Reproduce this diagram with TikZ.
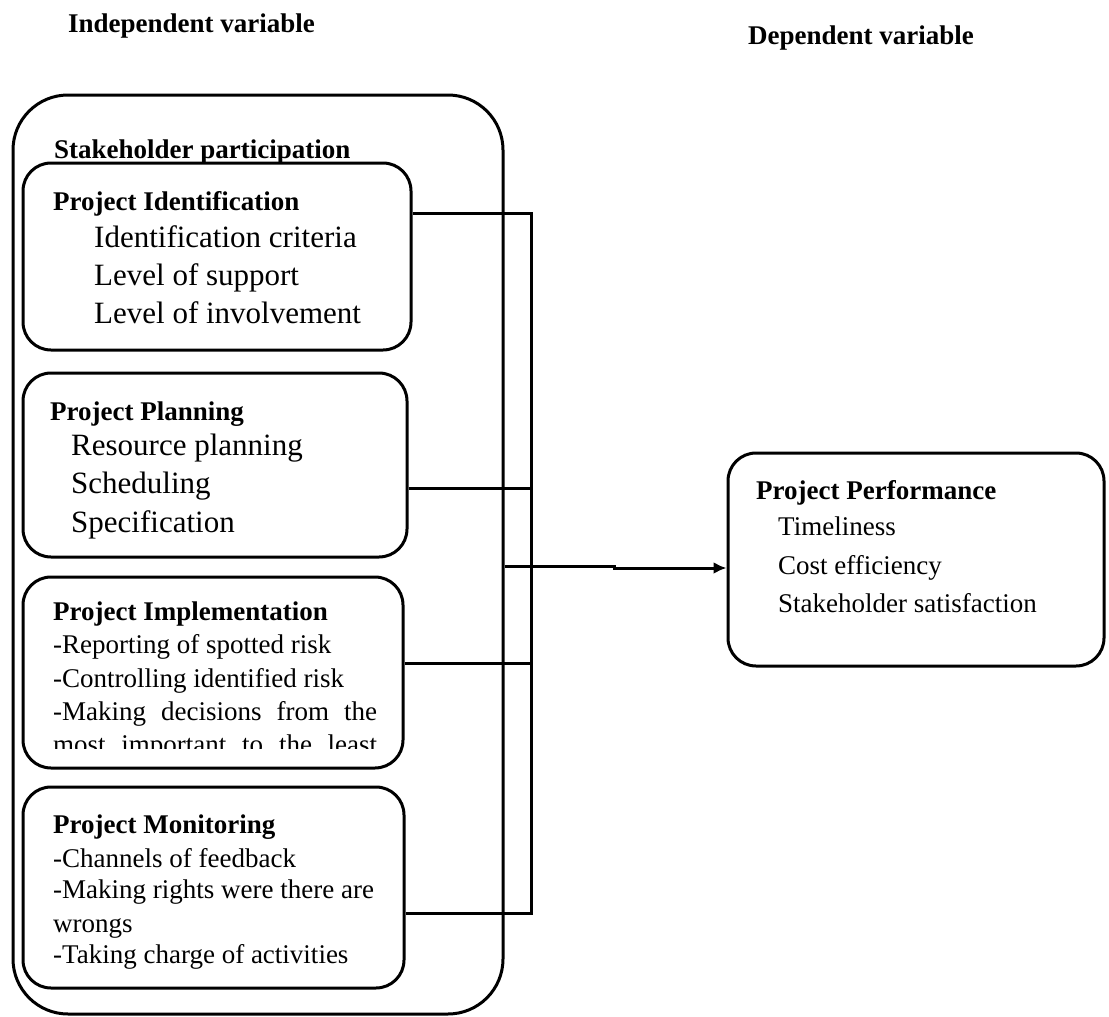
\documentclass[tikz,border=0pt]{standalone}
\usepackage{fontspec}
\setmainfont{Liberation Serif}
\usetikzlibrary{arrows.meta}

\tikzset{
	panel/.style = {draw, line width = 3pt, rounded corners = 28pt, inner sep = 0pt},
	head/.style = {font = \bfseries\fontsize{27}{30}\selectfont, anchor = base west, inner sep = 0pt},
	big/.style = {font = \fontsize{31}{34}\selectfont, anchor = base west, inner sep = 0pt},
	item/.style = {font = \fontsize{27}{30}\selectfont, anchor = base west, inner sep = 0pt},
	link/.style = {line width = 3pt}
}

\begin{document}
\begin{tikzpicture}[x = 1pt, y = -1pt]
	\useasboundingbox (0,0) rectangle (1109,1017);
	% headings
	\node[head] (indep) at (68,32) {Independent variable};
	\node[head] (dep) at (748,44) {Dependent variable};
	% boxes
	\node[panel, rounded corners = 55pt, minimum width = 490pt, minimum height = 919pt] (stake) at (258,554.5) {};
	\node[panel, minimum width = 388pt, minimum height = 187pt] (ident) at (217,256.5) {};
	\node[panel, minimum width = 384pt, minimum height = 184pt] (plan) at (215,465) {};
	\node[panel, minimum width = 380pt, minimum height = 191pt] (impl) at (213,672.5) {};
	\node[panel, minimum width = 381pt, minimum height = 201pt] (mon) at (213.5,887.5) {};
	\node[panel, minimum width = 376pt, minimum height = 213pt] (perf) at (916,559.5) {};
	% texts
	\node[head] (stakeT) at (54,158) {Stakeholder participation};
	\node[head] (identT) at (53,210) {Project Identification};
	\node[big] (ident1) at (94,247) {Identification criteria};
	\node[big] (ident2) at (94,285) {Level of support};
	\node[big] (ident3) at (94,323) {Level of involvement};
	\node[head] (planT) at (50,420) {Project Planning};
	\node[big] (plan1) at (71,455) {Resource planning};
	\node[big] (plan2) at (71,493) {Scheduling};
	\node[big] (plan3) at (71,532) {Specification};
	\node[head] (implT) at (53,620) {Project Implementation};
	\node[item] (impl1) at (53,653) {-Reporting of spotted risk};
	\node[item] (impl2) at (53,687) {-Controlling identified risk};
	\node[item] (impl3) at (53,720) {\makebox[324pt][s]{-Making decisions from the}};
	\begin{scope}
		\clip (40,700) rectangle (400,748);
		\node[item] (impl4) at (53,753) {\makebox[324pt][s]{most important to the least}};
	\end{scope}
	\node[head] (monT) at (53,833) {Project Monitoring};
	\node[item] (mon1) at (53,867) {-Channels of feedback};
	\node[item] (mon2) at (53,898) {-Making rights were there are};
	\node[item] (mon3) at (53,932) {wrongs};
	\node[item] (mon4) at (53,963) {-Taking charge of activities};
	\node[head] (perfT) at (756,499) {Project Performance};
	\node[item] (perf1) at (778,535) {Timeliness};
	\node[item] (perf2) at (778,574) {Cost efficiency};
	\node[item] (perf3) at (778,612) {Stakeholder satisfaction};
	% connectors
	\coordinate (j1) at (531,213);
	\coordinate (j2) at (531,488);
	\coordinate (j3) at (531,663);
	\coordinate (j4) at (531,913);
	\coordinate (a1) at (0,566);
	\coordinate (a2) at (614,568);
	\draw[link] (ident.east |- j1) -- (j1) -- (j4) -- (mon.east |- j4);
	\draw[link] (plan.east |- j2) -- (j2);
	\draw[link] (impl.east |- j3) -- (j3);
	\draw[link, -{Latex[length = 13pt, width = 12pt]}] (stake.east |- a1) -- (a1 -| a2) -- (a2) -- (perf.west |- a2);
\end{tikzpicture}
\end{document}
